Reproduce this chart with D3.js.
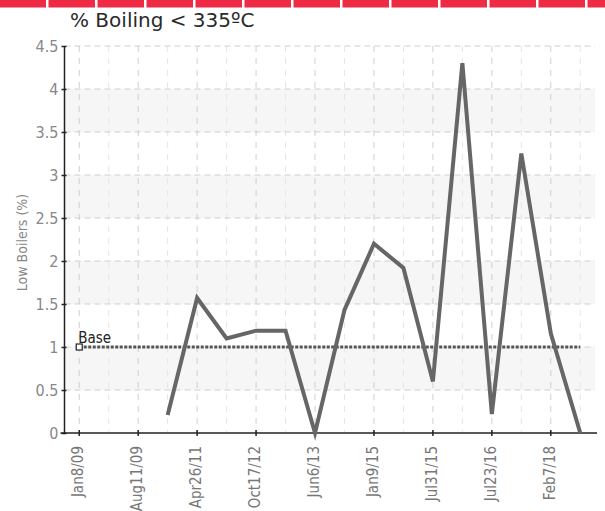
<!DOCTYPE html>
<html><head><meta charset="utf-8">
<script src="https://cdn.jsdelivr.net/npm/d3@7"></script>
<style>body{margin:0;background:#fff;} svg{display:block;}</style>
</head><body>
<svg id="c" width="605" height="511"></svg>
<script>
const categories = ["Jan8/09","c1","Aug11/09","c3","Apr26/11","c5","Oct17/12","c7","Jun6/13","c9","Jan9/15","c11","Jul31/15","c13","Jul23/16","c15","Feb7/18","c17"];
const tickLabels = ["Jan8/09","Aug11/09","Apr26/11","Oct17/12","Jun6/13","Jan9/15","Jul31/15","Jul23/16","Feb7/18"];
const values = [null,null,null,0.21,1.57,1.1,1.19,1.19,0,1.43,2.2,1.92,0.6,4.3,0.22,3.25,1.16,0];
const baseValue = 1;
const yTicks = [0,0.5,1,1.5,2,2.5,3,3.5,4,4.5];
const title = "% Boiling < 335ºC";
const yLabel = "Low Boilers (%)";

const svg = d3.select("#c");
const font = "'Liberation Sans Narrow','DejaVu Sans Condensed','Roboto',sans-serif";

// top red bar strip
const strip = d3.range(13);
svg.selectAll("rect.strip").data(strip).enter().append("rect")
  .attr("x", d => d*49 - 0.5).attr("y", 0).attr("width", 46.5).attr("height", 7.5)
  .attr("fill", "#ee2a44");

svg.append("text").attr("x", 70).attr("y", 27).text(title)
  .attr("font-family", "'DejaVu Sans',Verdana,sans-serif").attr("font-size", 20).attr("fill", "#2a2a2a");

const pL = 64.5, pR = 595, pT = 46, pB = 433;
const x = d3.scaleBand().domain(categories).range([pL, pR]);
const y = d3.scaleLinear().domain([0, 4.5]).range([pB, pT]);
const cx = d => x(d) + x.bandwidth()/2;

// alternating bands
const bands = [[0.5,1],[1.5,2],[2.5,3],[3.5,4]];
svg.selectAll("rect.band").data(bands).enter().append("rect")
  .attr("x", pL).attr("width", pR - pL)
  .attr("y", d => y(d[1])).attr("height", d => y(d[0]) - y(d[1]))
  .attr("fill", "#f6f6f6");

// vertical grid
svg.selectAll("line.vg").data(categories).enter().append("line")
  .attr("x1", d => cx(d)).attr("x2", d => cx(d)).attr("y1", pT).attr("y2", pB)
  .attr("stroke", (d,i) => i % 2 === 0 ? "#cfcfcf" : "#e6e6e6")
  .attr("stroke-dasharray", "6,6");

// horizontal grid
svg.selectAll("line.hg").data(yTicks.filter(t => t > 0)).enter().append("line")
  .attr("x1", pL).attr("x2", pR).attr("y1", d => y(d)).attr("y2", d => y(d))
  .attr("stroke", "#cfcfcf").attr("stroke-dasharray", "6,4");

// axes
const yAxis = d3.axisLeft(y).tickValues(yTicks).tickSize(4).tickFormat(d3.format("~g"));
const gy = svg.append("g").attr("transform", `translate(${pL},0)`).call(yAxis);
gy.select(".domain").attr("stroke", "#222").attr("stroke-width", 1.5).attr("d", `M0,${pT}V${pB}`);
gy.selectAll(".tick line").attr("stroke", "#222").attr("stroke-width", 1.5).attr("x1", 2).attr("x2", -3);
gy.selectAll(".tick text").attr("font-family", font).attr("font-size", 16).attr("fill", "#888").attr("x", -6);

const xAxis = d3.axisBottom(x).tickValues(tickLabels).tickSize(4);
const gx = svg.append("g").attr("transform", `translate(0,${pB})`).call(xAxis);
gx.select(".domain").attr("stroke", "#222").attr("stroke-width", 1.5).attr("d", `M${pL - 4},0H${pR + 2}`);
gx.selectAll(".tick line").attr("stroke", "#222").attr("stroke-width", 1.5).attr("y1", -3).attr("y2", 3);
gx.selectAll(".tick text").attr("font-family", font).attr("font-size", 15).attr("fill", "#777")
  .attr("transform", "rotate(-90)").attr("text-anchor", "end").attr("dy", "0.35em").attr("x", -13).attr("y", -1);

// y label
svg.append("text").attr("transform", `translate(27,${(pT+pB)/2 + 3}) rotate(-90)`)
  .attr("text-anchor", "middle").text(yLabel)
  .attr("font-family", font).attr("font-size", 14).attr("fill", "#888");

// base line
const first = categories[0], last = categories[categories.length - 1];
svg.append("line").attr("x1", cx(first)).attr("x2", cx(last)).attr("y1", y(baseValue)).attr("y2", y(baseValue))
  .attr("stroke", "#555").attr("stroke-width", 3).attr("stroke-dasharray", "3,1.5");
svg.append("rect").attr("x", cx(first) - 3).attr("y", y(baseValue) - 3).attr("width", 6).attr("height", 6)
  .attr("fill", "#fff").attr("stroke", "#222").attr("stroke-width", 1.2);
svg.append("text").attr("x", cx(first) - 1).attr("y", y(baseValue) - 4).text("Base")
  .attr("font-family", font).attr("font-size", 15).attr("fill", "#222");

// main line
const line = d3.line().defined(d => d.v !== null).x(d => cx(d.c)).y(d => y(d.v));
svg.append("path").datum(categories.map((c,i) => ({c, v: values[i]})))
  .attr("d", line).attr("fill", "none").attr("stroke", "#666").attr("stroke-width", 4)
  .attr("stroke-linejoin", "miter");
</script>
</body></html>
